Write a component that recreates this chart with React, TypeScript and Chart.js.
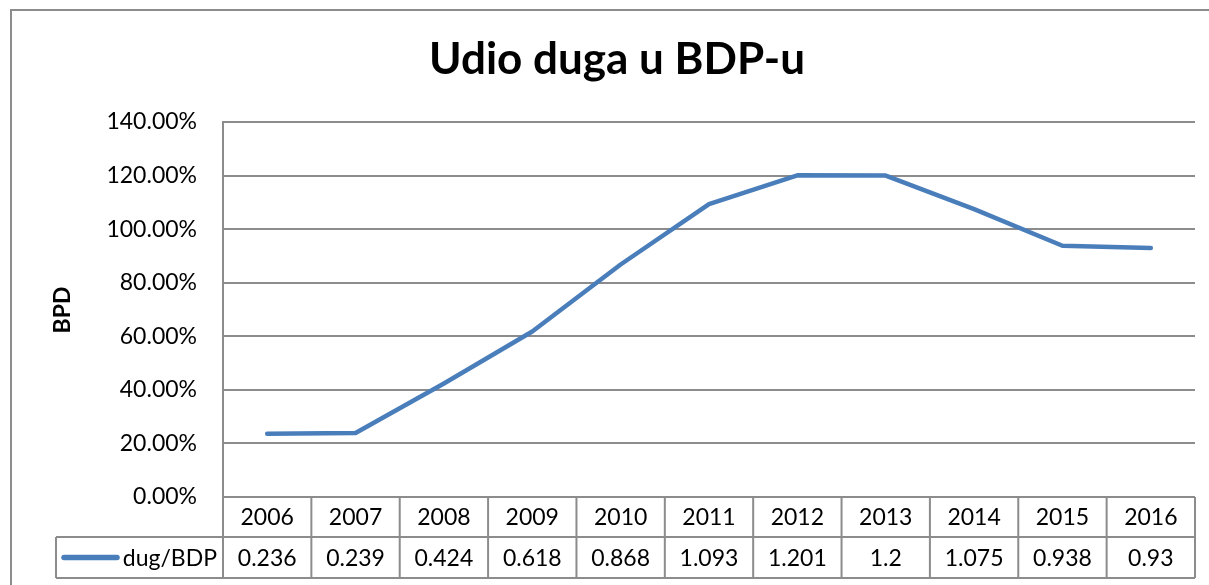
import React, { useEffect, useRef } from "react";
import { Chart, registerables } from "chart.js";

Chart.register(...registerables);

const TITLE = "Udio duga u BDP-u";
const Y_TITLE = "BPD";
const SERIES_NAME = "dug/BDP";
const years = ["2006", "2007", "2008", "2009", "2010", "2011", "2012", "2013", "2014", "2015", "2016"];
const debtRatio = [0.236, 0.239, 0.424, 0.618, 0.868, 1.093, 1.201, 1.2, 1.075, 0.938, 0.93];
const tableLabels = ["0.236", "0.239", "0.424", "0.618", "0.868", "1.093", "1.201", "1.2", "1.075", "0.938", "0.93"];

const FONT = "Lato, 'Open Sans', sans-serif";
const LINE_COLOR = "#4A7EBB";
const GRID = "#8c8c8c";

const W = 1209;
const H = 585;

const decorPlugin = {
  id: "decor",
  beforeDraw(chart: any) {
    const ctx = chart.ctx;
    ctx.save();
    ctx.fillStyle = "#ffffff";
    ctx.fillRect(0, 0, W, H);
    ctx.strokeStyle = GRID;
    ctx.lineWidth = 2;
    ctx.strokeRect(11, 10, W + 20, H + 20);
    ctx.restore();
  },
  afterDraw(chart: any) {
    const ctx = chart.ctx;
    const area = chart.chartArea;
    const x = chart.scales.x;
    ctx.save();
    // title
    ctx.fillStyle = "#000";
    ctx.font = `bold 44px ${FONT}`;
    ctx.textAlign = "center";
    ctx.textBaseline = "alphabetic";
    ctx.fillText(TITLE, 617, 74);
    // y title
    ctx.save();
    ctx.translate(63, 310);
    ctx.rotate(-Math.PI / 2);
    ctx.font = `bold 23px ${FONT}`;
    ctx.textAlign = "center";
    ctx.textBaseline = "middle";
    ctx.fillText(Y_TITLE, 0, 0);
    ctx.restore();

    // data table
    const n = years.length;
    const colW = (area.right - area.left) / n;
    const top = area.bottom;
    const mid = top + 40;
    const bot = mid + 41;
    const legendLeft = 56;
    ctx.strokeStyle = GRID;
    ctx.lineWidth = 2;
    ctx.beginPath();
    ctx.moveTo(area.left, top);
    ctx.lineTo(area.right, top);
    ctx.moveTo(legendLeft, mid);
    ctx.lineTo(area.right, mid);
    ctx.moveTo(legendLeft, bot);
    ctx.lineTo(area.right, bot);
    ctx.moveTo(legendLeft, mid);
    ctx.lineTo(legendLeft, bot);
    for (let i = 0; i <= n; i++) {
      const cx = area.left + i * colW;
      ctx.moveTo(cx, top);
      ctx.lineTo(cx, bot);
    }
    ctx.stroke();

    ctx.fillStyle = "#000";
    ctx.font = `23px ${FONT}`;
    ctx.textAlign = "center";
    ctx.textBaseline = "middle";
    for (let i = 0; i < n; i++) {
      const cx = x.getPixelForValue(i);
      ctx.fillText(years[i], cx, (top + mid) / 2 + 1);
      ctx.fillText(tableLabels[i], cx, (mid + bot) / 2 + 1);
    }
    // legend key
    ctx.strokeStyle = LINE_COLOR;
    ctx.lineWidth = 5.5;
    ctx.lineCap = "round";
    ctx.beginPath();
    ctx.moveTo(64, (mid + bot) / 2);
    ctx.lineTo(117, (mid + bot) / 2);
    ctx.stroke();
    ctx.textAlign = "right";
    ctx.fillText(SERIES_NAME, area.left - 6, (mid + bot) / 2 + 1);
    ctx.restore();
  },
};

export default function App() {
  const ref = useRef<HTMLCanvasElement | null>(null);
  useEffect(() => {
    if (!ref.current) return;
    const chart = new Chart(ref.current, {
      type: "line",
      data: {
        labels: years,
        datasets: [
          {
            label: SERIES_NAME,
            data: debtRatio,
            borderColor: LINE_COLOR,
            borderWidth: 4.5,
            pointRadius: 0,
            tension: 0,
            fill: false,
            borderCapStyle: "round",
            borderJoinStyle: "round",
          },
        ],
      },
      options: {
        responsive: false,
        animation: false,
        layout: { padding: { left: 0, right: 14, top: 122, bottom: 88 } },
        plugins: {
          legend: { display: false },
          title: { display: false },
          tooltip: { enabled: false },
        },
        scales: {
          x: {
            type: "category",
            offset: true,
            display: false,
          },
          y: {
            min: 0,
            max: 1.4,
            afterFit: (scale: any) => {
              scale.width = 223;
            },
            border: { display: true, color: GRID, width: 2 },
            grid: { color: GRID, lineWidth: 2, drawTicks: false },
            ticks: {
              stepSize: 0.2,
              padding: 26,
              color: "#000",
              font: { family: FONT, size: 23 },
              callback: (v: any) => (Number(v) * 100).toFixed(2) + "%",
            },
          },
        },
      },
      plugins: [decorPlugin],
    });
    return () => chart.destroy();
  }, []);
  return (
    <div style={{ position: "fixed", left: 0, top: 0, width: W, height: H }}>
      <canvas ref={ref} width={W} height={H} style={{ display: "block" }} />
    </div>
  );
}
